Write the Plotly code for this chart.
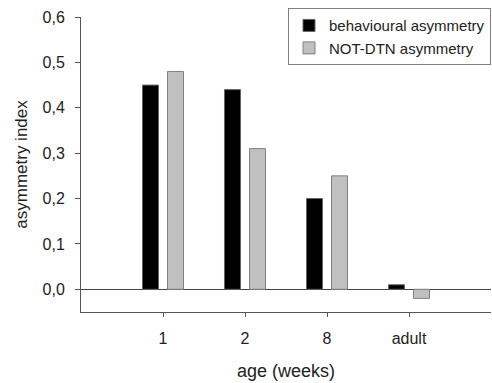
import plotly.graph_objects as go

categories = ["1", "2", "8", "adult"]
positions = [1, 2, 3, 4]
behavioural = [0.45, 0.44, 0.20, 0.01]
not_dtn = [0.48, 0.31, 0.25, -0.02]
y_ticks = [0.0, 0.1, 0.2, 0.3, 0.4, 0.5, 0.6]

font_family = "Liberation Sans, Arial, sans-serif"
axis_col = "#555555"

fig = go.Figure()
fig.add_trace(go.Bar(
    x=positions, y=behavioural, name="behavioural asymmetry",
    marker=dict(color="#000000", line=dict(color="#666666", width=1)),
))
fig.add_trace(go.Bar(
    x=positions, y=not_dtn, name="NOT-DTN asymmetry",
    marker=dict(color="#c0c0c0", line=dict(color="#808080", width=1)),
))

fig.update_layout(
    width=492, height=383,
    margin=dict(l=81, r=1, t=17, b=71),
    paper_bgcolor="white", plot_bgcolor="white",
    barmode="group", bargap=0.39, bargroupgap=0.36,
    separators=",.",
    font=dict(family=font_family, size=16, color="#222222"),
    showlegend=True,
    legend=dict(
        x=1.0, xanchor="right", y=1.03, yanchor="top",
        bordercolor="#808080", borderwidth=1, bgcolor="white",
        font=dict(size=15, color="#222222"),
        tracegroupgap=0, itemwidth=30,
    ),
    xaxis=dict(
        range=[0, 5], tickvals=positions, ticktext=categories,
        showline=True, linecolor=axis_col, linewidth=1,
        ticks="outside", ticklen=4, tickcolor=axis_col,
        ticklabelstandoff=8,
        showgrid=False, zeroline=False,
        title=dict(text="age (weeks)", font=dict(size=18), standoff=18),
        tickfont=dict(size=16),
    ),
    yaxis=dict(
        range=[-0.05, 0.6], tickvals=y_ticks, tickformat=".1f",
        showline=True, linecolor=axis_col, linewidth=1,
        ticks="outside", ticklen=5, tickcolor=axis_col,
        ticklabelstandoff=7,
        showgrid=False, zeroline=True, zerolinecolor="#444444", zerolinewidth=1,
        title=dict(text="asymmetry index", font=dict(size=17), standoff=10),
        tickfont=dict(size=16),
    ),
)

fig.write_html("out.html")
